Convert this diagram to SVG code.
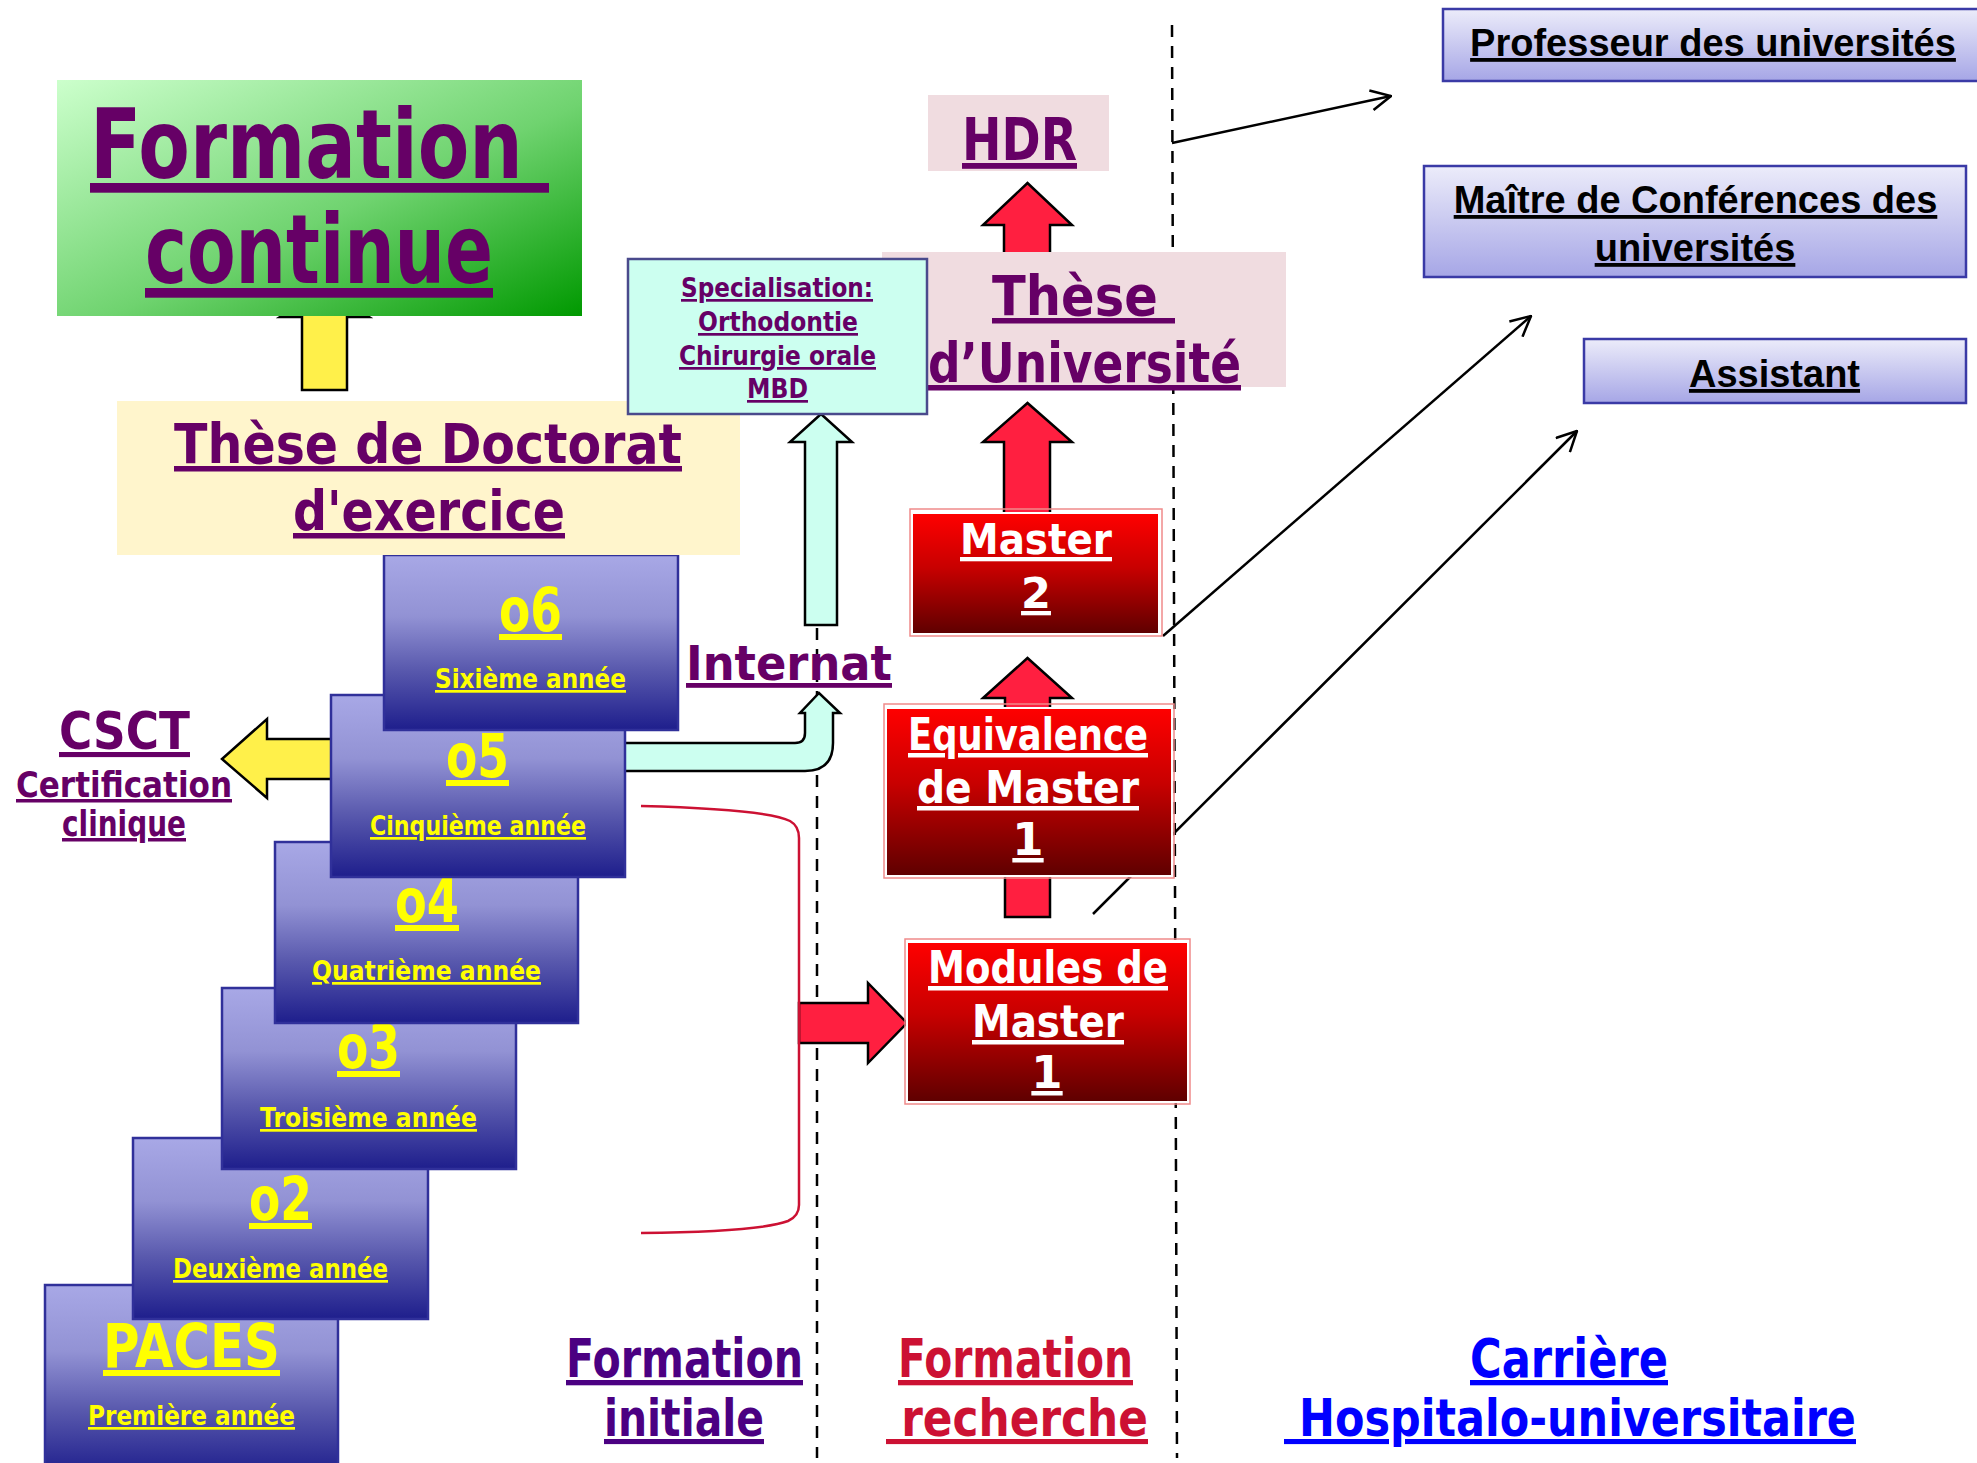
<svg xmlns="http://www.w3.org/2000/svg" width="1977" height="1463" viewBox="0 0 1977 1463">
<defs>
<linearGradient id="gGreen" x1="0" y1="0" x2="1" y2="1">
<stop offset="0" stop-color="#ccffcc"/><stop offset="0.55" stop-color="#6fd36f"/><stop offset="1" stop-color="#009900"/>
</linearGradient>
<linearGradient id="gBlue" x1="0" y1="0" x2="0" y2="1">
<stop offset="0" stop-color="#a8a8e6"/><stop offset="0.35" stop-color="#9292d4"/><stop offset="0.65" stop-color="#5a5aae"/><stop offset="1" stop-color="#1e1e8c"/>
</linearGradient>
<linearGradient id="gRed" x1="0" y1="0" x2="0" y2="1">
<stop offset="0" stop-color="#ff0000"/><stop offset="0.45" stop-color="#c80000"/><stop offset="1" stop-color="#5e0000"/>
</linearGradient>
<linearGradient id="gCareer" x1="0" y1="0" x2="0" y2="1">
<stop offset="0" stop-color="#ececfa"/><stop offset="1" stop-color="#a6a6e6"/>
</linearGradient>
<marker id="open" viewBox="0 0 22 22" refX="21" refY="11" markerWidth="22" markerHeight="22" markerUnits="userSpaceOnUse" orient="auto">
<path d="M1,1 L21,11 L1,21" fill="none" stroke="#000" stroke-width="2.5"/>
</marker>
<style>
.c{font-family:"DejaVu Sans",sans-serif;font-weight:bold;text-anchor:middle;text-decoration:underline}
.pu{fill:#660066}
.ye{fill:#ffff00}
.wh{fill:#ffffff}
.ar{font-family:"Liberation Sans",Arial,sans-serif;font-weight:bold;text-decoration:underline;fill:#000;text-anchor:middle;font-size:38px}
.year{fill:url(#gBlue);stroke:#30309a;stroke-width:2.5}
.redbox{fill:url(#gRed);stroke:#ffffff;stroke-width:2}
.redout{fill:none;stroke:#f08a8a;stroke-width:1.5}
.career{fill:url(#gCareer);stroke:#3a3aa6;stroke-width:2.5}
.pink{fill:#f0dce0}
.redarrow{fill:#ff1f40;stroke:#000;stroke-width:2.5;stroke-linejoin:miter}
.yelarrow{fill:#fff04a;stroke:#000;stroke-width:2.5}
.cyanarrow{fill:#ccfff0;stroke:#000;stroke-width:2.5}
.thin{fill:none;stroke:#000;stroke-width:2.5;marker-end:url(#open)}
.dash{fill:none;stroke:#000;stroke-width:2.5;stroke-dasharray:12 9}
</style>
</defs>
<rect width="1977" height="1463" fill="#ffffff"/>

<g id="separators">
<line class="dash" x1="817" y1="628" x2="817" y2="1458"/>
<line class="dash" x1="1172" y1="25" x2="1177" y2="1458"/>
</g>

<g id="connectors">
<path class="yelarrow" d="M302,390 L347,390 L347,317 L369,317 L324.5,289 L280,317 L302,317 Z"/>
<path class="redarrow" d="M1004,262 L1004,225 L983,225 L1027.5,183 L1072,225 L1050,225 L1050,262 Z"/>
<path class="redarrow" d="M1004,515 L1004,442 L983,442 L1027.5,403 L1072,442 L1050,442 L1050,515 Z"/>
<path class="redarrow" d="M1005,917 L1005,698 L983,698 L1027.5,658 L1072,698 L1050,698 L1050,917 Z"/>
<path class="redarrow" d="M799,1003 L868,1003 L868,983 L907,1023 L868,1063 L868,1043 L799,1043 Z"/>
<path class="cyanarrow" d="M805,625 L805,442 L790,442 L821,414 L852,442 L837,442 L837,625 Z"/>
<path class="cyanarrow" d="M600,743 L795,743 Q805,743 805,733 L805,713 L800,713 L819,693 L840,713 L833,713 L833,743 Q833,771 805,771 L600,771 Z"/>
<path class="yelarrow" d="M340,739 L267,739 L267,719 L222,759 L267,798 L267,779 L340,779 Z"/>
<path d="M641,806 C720,808 772,812 790,821 Q799,826 799,838 L799,1205 Q799,1216 788,1221 C770,1228 720,1232 641,1233" fill="none" stroke="#cc1133" stroke-width="2.5"/>
<line class="thin" x1="1172" y1="143" x2="1391" y2="96"/>
<line class="thin" x1="1163" y1="636" x2="1531" y2="316"/>
<line class="thin" x1="1093" y1="914" x2="1577" y2="431"/>
</g>

<g id="paces">
<rect class="year" x="45" y="1285" width="293" height="190"/>
<text class="c ye" x="191.5" y="1367" font-size="60" textLength="177" lengthAdjust="spacingAndGlyphs">PACES</text>
<text class="c ye" x="191.5" y="1425" font-size="27" textLength="207" lengthAdjust="spacingAndGlyphs">Première  année</text>
</g>
<g id="annee2">
<rect class="year" x="133" y="1138" width="295" height="181"/>
<text class="c ye" x="280.5" y="1220" font-size="60" textLength="63" lengthAdjust="spacingAndGlyphs">o2</text>
<text class="c ye" x="280.5" y="1278" font-size="27" textLength="215" lengthAdjust="spacingAndGlyphs">Deuxième  année</text>
</g>
<g id="annee3">
<rect class="year" x="222" y="988" width="294" height="181"/>
<text class="c ye" x="368.5" y="1068" font-size="60" textLength="63" lengthAdjust="spacingAndGlyphs">o3</text>
<text class="c ye" x="368.5" y="1127" font-size="27" textLength="217" lengthAdjust="spacingAndGlyphs">Troisième  année</text>
</g>
<g id="annee4">
<rect class="year" x="275" y="842" width="303" height="181"/>
<text class="c ye" x="427" y="922" font-size="60" textLength="64" lengthAdjust="spacingAndGlyphs">o4</text>
<text class="c ye" x="426.5" y="980" font-size="27" textLength="229" lengthAdjust="spacingAndGlyphs">Quatrième  année</text>
</g>
<g id="annee5">
<rect class="year" x="331" y="695" width="294" height="182"/>
<text class="c ye" x="477.5" y="777" font-size="60" textLength="63" lengthAdjust="spacingAndGlyphs">o5</text>
<text class="c ye" x="478" y="835" font-size="27" textLength="216" lengthAdjust="spacingAndGlyphs">Cinquième  année</text>
</g>
<g id="annee6">
<rect class="year" x="384" y="555" width="294" height="175"/>
<text class="c ye" x="530.5" y="631" font-size="60" textLength="63" lengthAdjust="spacingAndGlyphs">o6</text>
<text class="c ye" x="530.5" y="688" font-size="27" textLength="191" lengthAdjust="spacingAndGlyphs">Sixième  année</text>
</g>

<g id="these-doctorat">
<rect x="117" y="401" width="623" height="154" fill="#fff5cc"/>
<text class="c pu" x="428" y="463" font-size="55" textLength="508" lengthAdjust="spacingAndGlyphs">Thèse  de  Doctorat</text>
<text class="c pu" x="429" y="530" font-size="55" textLength="272" lengthAdjust="spacingAndGlyphs">d'exercice</text>
</g>

<g id="formation-continue">
<rect x="57" y="80" width="525" height="236" fill="url(#gGreen)"/>
<text class="c pu" x="319.5" y="178" font-size="97" textLength="459" lengthAdjust="spacingAndGlyphs">Formation&#160;</text>
<text class="c pu" x="319" y="283" font-size="97" textLength="348" lengthAdjust="spacingAndGlyphs">continue</text>
</g>

<g id="hdr">
<rect class="pink" x="928" y="95" width="181" height="76"/>
<text class="c pu" x="1019.5" y="160" font-size="58" textLength="115" lengthAdjust="spacingAndGlyphs">HDR</text>
</g>

<g id="these-universite">
<rect class="pink" x="882" y="252" width="404" height="135"/>
<text class="c pu" x="1083.5" y="315" font-size="55" textLength="183" lengthAdjust="spacingAndGlyphs">Thèse&#160;</text>
<text class="c pu" x="1084.5" y="382" font-size="55" textLength="313" lengthAdjust="spacingAndGlyphs">d’Université</text>
</g>

<g id="specialisation">
<rect x="628" y="259" width="299" height="155" fill="#ccfff0" stroke="#4a4a8c" stroke-width="2.5"/>
<text class="c pu" x="777" y="297" font-size="27" textLength="192" lengthAdjust="spacingAndGlyphs">Specialisation:</text>
<text class="c pu" x="778" y="331" font-size="27" textLength="160" lengthAdjust="spacingAndGlyphs">Orthodontie</text>
<text class="c pu" x="777.5" y="365" font-size="27" textLength="197" lengthAdjust="spacingAndGlyphs">Chirurgie orale</text>
<text class="c pu" x="777.5" y="398" font-size="27" textLength="61" lengthAdjust="spacingAndGlyphs">MBD</text>
</g>

<g id="master2">
<rect class="redout" x="910" y="509" width="252" height="127"/>
<rect class="redbox" x="912" y="513" width="247" height="121"/>
<text class="c wh" x="1036" y="554" font-size="43" textLength="152" lengthAdjust="spacingAndGlyphs">Master</text>
<text class="c wh" x="1036" y="608" font-size="43">2</text>
</g>

<g id="equivalence">
<rect class="redout" x="884" y="704" width="290" height="174"/>
<rect class="redbox" x="886" y="708" width="286" height="168"/>
<text class="c wh" x="1028" y="750" font-size="45" textLength="240" lengthAdjust="spacingAndGlyphs">Equivalence</text>
<text class="c wh" x="1028" y="803" font-size="45" textLength="222" lengthAdjust="spacingAndGlyphs">de  Master</text>
<text class="c wh" x="1028" y="855" font-size="45">1</text>
</g>

<g id="modules">
<rect class="redout" x="905" y="939" width="285" height="165"/>
<rect class="redbox" x="907" y="942" width="281" height="160"/>
<text class="c wh" x="1048" y="983" font-size="45" textLength="240" lengthAdjust="spacingAndGlyphs">Modules  de</text>
<text class="c wh" x="1048" y="1037" font-size="45" textLength="152" lengthAdjust="spacingAndGlyphs">Master</text>
<text class="c wh" x="1047" y="1088" font-size="45">1</text>
</g>

<g id="internat">
<text class="c pu" x="789" y="680" font-size="48" textLength="206" lengthAdjust="spacingAndGlyphs">Internat</text>
</g>

<g id="csct">
<text class="c pu" x="124.5" y="749" font-size="51" textLength="131" lengthAdjust="spacingAndGlyphs">CSCT</text>
<text class="c pu" x="124" y="797" font-size="35" textLength="216" lengthAdjust="spacingAndGlyphs">Certification</text>
<text class="c pu" x="124" y="836" font-size="35" textLength="124" lengthAdjust="spacingAndGlyphs">clinique</text>
</g>

<g id="professeur">
<rect class="career" x="1443" y="9" width="545" height="72"/>
<text class="ar" x="1713" y="56">Professeur des universités</text>
</g>
<g id="maitre">
<rect class="career" x="1424" y="166" width="542" height="111"/>
<text class="ar" x="1695.5" y="213">Maître de Conférences des</text>
<text class="ar" x="1695" y="261">universités</text>
</g>
<g id="assistant">
<rect class="career" x="1584" y="339" width="382" height="64"/>
<text class="ar" x="1774.5" y="387">Assistant</text>
</g>

<g id="formation-initiale">
<text class="c" fill="#4b0082" x="684.5" y="1377" font-size="53" textLength="237" lengthAdjust="spacingAndGlyphs">Formation</text>
<text class="c" fill="#4b0082" x="684" y="1436" font-size="51" textLength="160" lengthAdjust="spacingAndGlyphs">initiale</text>
</g>
<g id="formation-recherche">
<text class="c" fill="#cc1133" x="1015.5" y="1377" font-size="53" textLength="235" lengthAdjust="spacingAndGlyphs">Formation</text>
<text class="c" fill="#cc1133" x="1017" y="1436" font-size="51" textLength="262" lengthAdjust="spacingAndGlyphs">&#160;recherche</text>
</g>
<g id="carriere">
<text class="c" fill="#0000ff" x="1569" y="1377" font-size="53" textLength="198" lengthAdjust="spacingAndGlyphs">Carrière</text>
<text class="c" fill="#0000ff" x="1570" y="1436" font-size="51" textLength="572" lengthAdjust="spacingAndGlyphs">&#160;Hospitalo-universitaire</text>
</g>
</svg>
